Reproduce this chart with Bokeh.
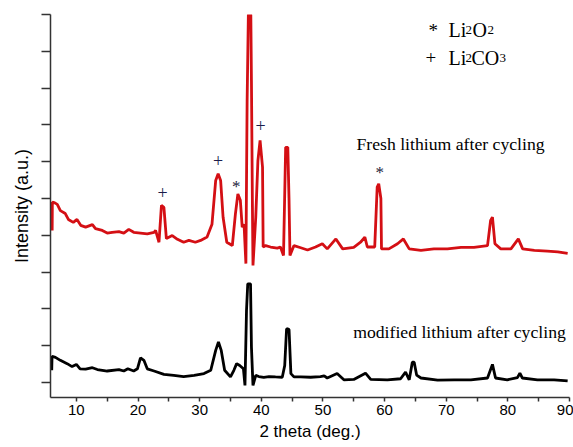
from bokeh.plotting import figure
from bokeh.models import FixedTicker, CustomLabelingPolicy
from bokeh.core.properties import value
from bokeh.embed import file_html
from bokeh.resources import INLINE

# ---- data ----
fresh_x = [6.07, 6.1, 6.5, 6.9, 7.4, 8.2, 8.7, 9.5, 10.1, 10.7, 11.5, 12.6, 13.1, 14.2, 15.0, 15.8,
           16.9, 17.7, 18.5, 19.3, 20.4, 21.5, 22.6, 22.85, 23.4, 23.8, 24.2, 24.6, 25.55, 26.4,
           27.4, 28.25, 29.3, 30.15, 31.2, 32.0, 32.6, 33.0, 33.4, 33.8, 34.4, 35.3, 35.8, 36.2,
           36.6, 36.9, 37.2, 37.5, 37.7, 37.9, 38.3, 38.4, 38.55, 38.65, 39.1, 39.45, 39.8, 40.2,
           40.3, 40.7, 41.5, 42.6, 43.1, 43.6, 43.95, 44.3, 44.5, 44.65, 45.3, 46.4, 47.5, 48.8,
           49.9, 50.7, 52.1, 53.2, 55.0, 56.1, 56.8, 57.2, 58.4, 58.8, 59.05, 59.4, 59.5, 60.7,
           62.1, 63.05, 64.0, 65.9, 68.0, 70.2, 72.4, 74.5, 76.7, 77.2, 77.5, 77.9, 78.85, 80.5,
           81.7, 82.4, 84.3, 86.4, 88.1, 89.7]
fresh_y = [4.13, 4.9, 4.88, 4.84, 4.67, 4.59, 4.43, 4.35, 4.43, 4.27, 4.22, 4.29, 4.18, 4.13, 4.06, 4.08,
           4.1, 4.06, 4.16, 4.08, 4.06, 4.04, 4.08, 4.13, 3.81, 4.81, 4.76, 3.91, 3.99, 3.89,
           3.81, 3.86, 3.81, 3.86, 3.95, 4.3, 5.49, 5.67, 5.49, 4.49, 3.81, 3.72, 4.58, 5.12,
           4.95, 4.22, 4.3, 3.23, 7.66, 10.0, 10.0, 8.2, 4.95, 3.18, 4.49, 6.03, 6.58, 5.85,
           3.68, 3.72, 3.68, 3.65, 3.68, 3.45, 6.39, 6.39, 4.95, 3.45, 3.72, 3.66, 3.6, 3.68,
           3.77, 3.63, 3.9, 3.63, 3.67, 3.81, 3.95, 3.68, 3.68, 5.31, 5.4, 5.0, 3.63, 3.63,
           3.77, 3.9, 3.63, 3.59, 3.63, 3.63, 3.67, 3.67, 3.72, 4.4, 4.49, 3.77, 3.63, 3.63,
           3.9, 3.63, 3.59, 3.57, 3.55, 3.51]

modified_x = [6.0, 6.05, 6.6, 7.4, 8.5, 9.3, 10.0, 10.6, 11.5, 12.6, 13.4, 15.0, 16.9, 17.7, 18.35,
              19.3, 19.9, 20.4, 20.95, 21.5, 22.6, 24.2, 25.8, 27.4, 29.1, 30.7, 31.8, 32.6, 33.05,
              33.5, 34.05, 35.0, 35.55, 36.0, 36.5, 37.1, 37.35, 37.6, 37.8, 38.25, 38.4, 38.65,
              39.1, 39.6, 40.4, 41.25, 42.3, 43.4, 43.8, 44.1, 44.5, 44.8, 45.3, 46.4, 48.0, 49.6,
              50.2, 50.7, 52.3, 53.4, 55.0, 56.9, 57.75, 60.45, 62.6, 63.4, 64.0, 64.5, 64.8, 65.2,
              65.9, 68.6, 71.3, 74.0, 76.7, 77.5, 78.0, 79.9, 81.55, 81.95, 82.35, 84.8, 87.5, 89.7]
modified_y = [0.33, 0.71, 0.68, 0.6, 0.51, 0.43, 0.49, 0.37, 0.36, 0.4, 0.35, 0.31, 0.35, 0.31, 0.37,
              0.31, 0.37, 0.67, 0.6, 0.37, 0.31, 0.22, 0.19, 0.16, 0.19, 0.24, 0.33, 0.87, 1.1,
              0.87, 0.33, 0.15, 0.33, 0.51, 0.46, 0.37, -0.08, 1.96, 2.68, 2.68, 0.96, -0.08,
              0.19, 0.16, 0.14, 0.16, 0.15, 0.14, 0.46, 1.46, 1.44, 0.24, 0.15, 0.15, 0.14, 0.16,
              0.18, 0.12, 0.24, 0.07, 0.08, 0.25, 0.08, 0.07, 0.1, 0.28, 0.07, 0.55, 0.55, 0.2,
              0.12, 0.06, 0.07, 0.07, 0.12, 0.49, 0.12, 0.07, 0.13, 0.25, 0.12, 0.07, 0.07, 0.04]

# phase markers on the fresh curve
li2co3_x = [24.0, 33.0, 39.9]
li2co3_y = [5.17, 6.03, 6.98]
li2o2_x = [35.95, 59.2]
li2o2_y = [5.4, 5.78]

x_ticks = [10, 20, 30, 40, 50, 60, 70, 80, 90]
x_minor = [15, 25, 35, 45, 55, 65, 75, 85]
y_ticks = list(range(0, 11))

RED = "#d40f14"
SERIF = value("Liberation Serif")

p = figure(width=573, height=447, output_backend="svg", toolbar_location=None,
           x_range=(5.8, 90), y_range=(-0.41, 10),
           min_border_left=50, min_border_right=4, min_border_top=14, min_border_bottom=50)
p.outline_line_color = None
p.xgrid.grid_line_color = None
p.ygrid.grid_line_color = None
p.background_fill_color = "white"

p.line(fresh_x, fresh_y, color=RED, line_width=2.8)
p.line(modified_x, modified_y, color="black", line_width=2.8)

# markers
p.text(li2co3_x, li2co3_y, text=["+"] * len(li2co3_x), text_font=SERIF, text_font_size="18px",
       text_align="center", text_baseline="middle", text_color="#1c1c4a")
p.text(li2o2_x, li2o2_y, text=["*"] * len(li2o2_x), text_font=SERIF, text_font_size="17px",
       text_align="center", text_baseline="middle", text_color="#1c1c3a", y_offset=3)

# series labels
p.text([70.7], [6.49], text=["Fresh lithium after cycling"], text_font=SERIF, text_font_size="17.7px",
       text_align="center", text_baseline="middle", text_color="black")
p.text([72.15], [1.37], text=["modified lithium after cycling"], text_font=SERIF, text_font_size="17.7px",
       text_align="center", text_baseline="middle", text_color="black")

# legend (symbol + formula with small subscripts)
lx = 70.37
row1 = 9.57
row2 = 8.83
p.text([lx], [row1], text=["*"], x_offset=-20, text_font=SERIF, text_font_size="19px",
       text_align="left", text_baseline="alphabetic", text_color="black")
p.text([lx], [row2], text=["+"], x_offset=-23, text_font=SERIF, text_font_size="19px",
       text_align="left", text_baseline="alphabetic", text_color="black")
pieces = [("Li", 0, row1, "20px"), ("2", 17, row1, "13px"), ("O", 24, row1, "20px"), ("2", 39, row1, "13px"),
          ("Li", 0, row2, "20px"), ("2", 17, row2, "13px"), ("CO", 23, row2, "20px"), ("3", 51, row2, "13px")]
for t, off, yy, fs in pieces:
    p.text([lx], [yy], text=[t], x_offset=off, text_font=SERIF, text_font_size=fs,
           text_align="left", text_baseline="alphabetic", text_color="black")

# axes
p.xaxis.ticker = FixedTicker(ticks=x_ticks, minor_ticks=x_minor)
p.xaxis.major_tick_in = 0
p.xaxis.major_tick_out = 4
p.xaxis.minor_tick_in = 0
p.xaxis.minor_tick_out = 4
p.xaxis.major_label_text_font = "Liberation Sans"
p.xaxis.major_label_text_font_size = "15px"
p.xaxis.major_label_text_color = "black"
p.xaxis.major_label_standoff = 3
p.xaxis.axis_label = "2 theta (deg.)"
p.xaxis.axis_label_text_font = "Liberation Sans"
p.xaxis.axis_label_text_font_size = "17px"
p.xaxis.axis_label_text_font_style = "normal"
p.xaxis.axis_label_text_color = "black"
p.xaxis.axis_label_standoff = 4

p.yaxis.ticker = FixedTicker(ticks=y_ticks, minor_ticks=[])
p.yaxis.major_tick_in = 0
p.yaxis.major_tick_out = 9
p.yaxis.major_label_policy = CustomLabelingPolicy(code="return new Set()")
p.yaxis.major_label_text_font_size = "1px"
p.yaxis.major_label_standoff = 0
p.yaxis.axis_label = "Intensity (a.u.)"
p.yaxis.axis_label_text_font = "Liberation Sans"
p.yaxis.axis_label_text_font_size = "18px"
p.yaxis.axis_label_text_font_style = "normal"
p.yaxis.axis_label_text_color = "black"
p.yaxis.axis_label_standoff = 5

for ax in (p.xaxis, p.yaxis):
    ax.axis_line_color = "#333333"
    ax.axis_line_width = 1.5
    ax.major_tick_line_color = "#333333"
    ax.major_tick_line_width = 1.5
    ax.minor_tick_line_color = "#333333"
    ax.minor_tick_line_width = 1.5

open("out.html", "w").write(file_html(p, INLINE))
